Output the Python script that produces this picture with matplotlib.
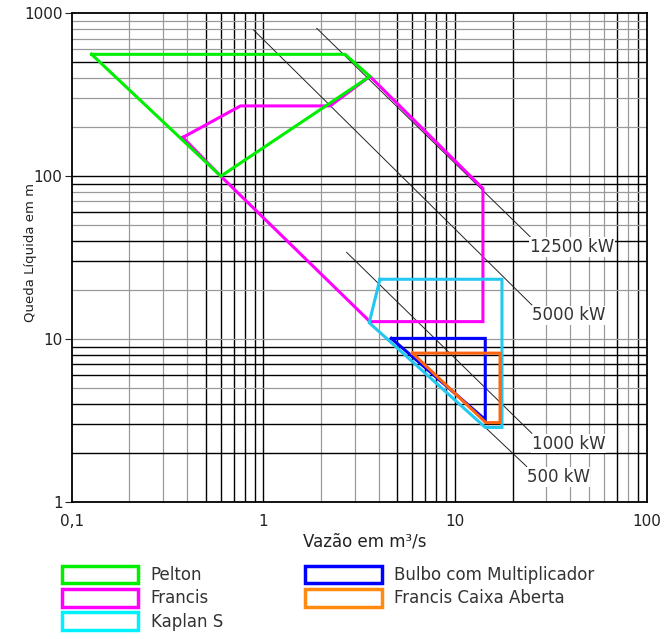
import numpy as np
import matplotlib
matplotlib.use('Agg')
import matplotlib.pyplot as plt
from matplotlib.patches import Rectangle

plt.rcParams['font.family'] = ['DejaVu Sans']

# polygons: vazao (m3/s) and queda (m)
pelton_q = [0.127, 2.67, 3.6, 0.6]
pelton_h = [560, 560, 410, 100]
francis_q = [0.38, 0.76, 2.23, 3.6, 14.0, 14.0, 3.6, 0.6]
francis_h = [173, 270, 270, 410, 84, 12.8, 12.8, 100]
kaplan_q = [4.06, 17.6, 17.6, 14.4, 3.57]
kaplan_h = [23.3, 23.3, 2.87, 2.87, 12.6]
bulbo_q = [4.66, 14.4, 14.4]
bulbo_h = [10.1, 10.1, 3.2]
caixa_q = [6.0, 17.2, 17.2, 14.5]
caixa_h = [8.2, 8.2, 3.07, 3.07]

# constant power lines (start and end points)
power_labels = ['12500 kW', '5000 kW', '1000 kW', '500 kW']
power_q = [[1.9, 24.7], [0.89, 25.2], [2.72, 25.2], [14.4, 23.7]]
power_h = [[809, 42.5], [790, 16.2], [34.1, 2.64], [2.87, 1.65]]

legend_left = ['Pelton', 'Francis', 'Kaplan S']
legend_right = ['Bulbo com Multiplicador', 'Francis Caixa Aberta']

fig = plt.figure(figsize=(6.72, 6.39), dpi=100)
ax = fig.add_axes([0.1067, 0.2144, 0.8554, 0.7648])
ax.set_xscale('log')
ax.set_yscale('log')
ax.set_xlim(0.1, 100)
ax.set_ylim(1, 1000)

# irregular grid like the original drawing
vx_black = [0.5, 0.6, 0.7, 0.8, 0.9, 1, 5, 6, 7, 8, 9, 10, 20, 70, 90]
vx_gray = [0.2, 0.3, 0.4, 2, 3, 4, 30, 40, 50, 60, 80]
hy_black = [500, 90, 60, 40, 30, 9, 8, 7, 6, 4, 3, 2, 100]
hy_gray = [900, 800, 700, 600, 400, 300, 200, 80, 70, 50, 20, 10, 5]
for v in vx_gray:
    ax.axvline(v, color='#9a9a9a', lw=0.9, zorder=1)
for v in vx_black:
    ax.axvline(v, color='black', lw=1.0, zorder=1)
for v in hy_gray:
    ax.axhline(v, color='#9a9a9a', lw=0.9, zorder=1)
for v in hy_black:
    ax.axhline(v, color='black', lw=1.0, zorder=1)

# power lines with labels
for lab, q, h in zip(power_labels, power_q, power_h):
    ax.plot(q, h, color='#222222', lw=0.7, zorder=2)
    ax.annotate(lab, (q[1], h[1]), xytext=(0, -1), textcoords='offset points',
                ha='left', va='top', fontsize=12, color='#333333', zorder=3,
                bbox=dict(facecolor='white', edgecolor='none', pad=0.5))

def outline(q, h, c):
    ax.plot(q + q[:1], h + h[:1], color=c, lw=2.2, zorder=4,
            solid_joinstyle='miter')

outline(francis_q, francis_h, '#ff00ff')
outline(kaplan_q, kaplan_h, '#22c8f0')
outline(bulbo_q, bulbo_h, '#0000ff')
outline(caixa_q, caixa_h, '#ff6410')
outline(pelton_q, pelton_h, '#00ee00')

ax.set_xticks([0.1, 1, 10, 100])
ax.set_xticklabels(['0,1', '1', '10', '100'])
ax.set_yticks([1, 10, 100, 1000])
ax.set_yticklabels(['1', '10', '100', '1000'])
ax.minorticks_off()
ax.tick_params(axis='x', length=0, pad=9, labelsize=11, colors='#222222')
ax.tick_params(axis='y', length=5, width=0.8, pad=1.5, labelsize=11, colors='#222222')
for s in ax.spines.values():
    s.set_linewidth(1.3)

ax.set_xlabel('Vazão em m³/s', fontsize=12, color='#222222')
ax.xaxis.set_label_coords(0.51, -0.08)
ax.xaxis.label.set_va('center')
ax.set_ylabel('Queda Líquida em m', fontsize=9.5, color='#222222')
ax.yaxis.set_label_coords(-0.072, 0.51)
ax.yaxis.label.set_va('center')

left_colors = ['#00ee00', '#ff00ff', '#00f0ff']
right_colors = ['#0000ff', '#ff8c10']
kw = dict(loc='upper left', frameon=False, handlelength=4.6, handleheight=1.25,
          handletextpad=0.75, labelspacing=0.3, borderpad=0, borderaxespad=0,
          prop={'size': 12})
h1 = [Rectangle((0, 0), 1, 1, facecolor='none', edgecolor=c, lw=2.5) for c in left_colors]
h2 = [Rectangle((0, 0), 1, 1, facecolor='none', edgecolor=c, lw=2.5) for c in right_colors]
leg1 = fig.legend(h1, legend_left, bbox_to_anchor=(0.0918, 0.115), **kw)
leg2 = fig.legend(h2, legend_right, bbox_to_anchor=(0.4539, 0.115), **kw)
for t in leg1.get_texts() + leg2.get_texts():
    t.set_color('#333333')

fig.savefig('out.png', dpi=100)
